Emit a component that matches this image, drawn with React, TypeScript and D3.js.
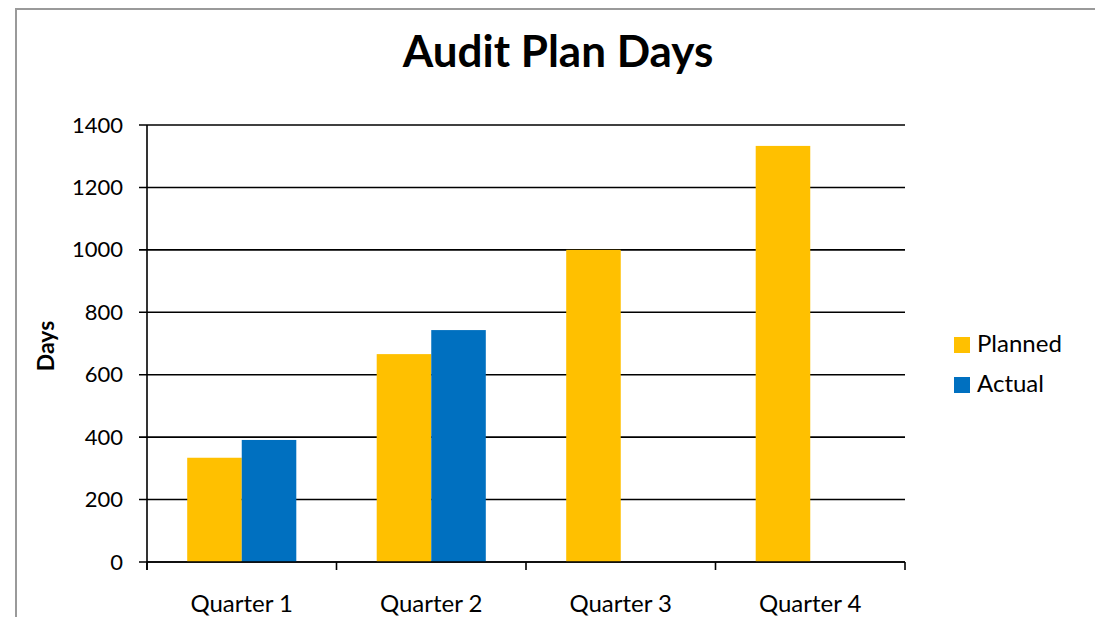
import React from "react";
import * as d3 from "d3";

const categories = ["Quarter 1", "Quarter 2", "Quarter 3", "Quarter 4"];
const seriesNames = ["Planned", "Actual"];
const planned = [334, 666, 1000, 1333];
const actual: (number | null)[] = [391, 743, null, null];
const yTicks = [0, 200, 400, 600, 800, 1000, 1200, 1400];
const colors = ["#FFC000", "#0070C0"];

const W = 1095;
const H = 617;
const FONT = "Lato, 'Open Sans', sans-serif";

export default function App() {
  const left = 147, right = 905, top = 125, bottom = 562;
  const x = d3.scaleBand<string>().domain(categories).range([left, right]).paddingInner(0).paddingOuter(0);
  const inner = d3.scaleBand<string>().domain(seriesNames).range([0, x.bandwidth()]).paddingInner(0).paddingOuter(0.737);
  const y = d3.scaleLinear().domain([0, 1400]).range([bottom, top]);
  const values = [planned, actual];

  return (
    <svg width={W} height={H} style={{ position: "absolute", left: 0, top: 0, background: "#fff" }}>
      <rect x={16} y={9} width={1200} height={700} fill="#fff" stroke="#9a9a9a" strokeWidth={2} />
      <text x={558} y={67} textAnchor="middle" fontFamily={FONT} fontWeight="bold" fontSize={44} fill="#000">
        Audit Plan Days
      </text>
      {yTicks.map((t) => (
        <g key={t}>
          <line x1={139} x2={right} y1={y(t)} y2={y(t)} stroke="#000" strokeWidth={1.6} />
          <text x={123} y={y(t) + 7.5} textAnchor="end" fontFamily={FONT} fontSize={22} fill="#000">
            {t}
          </text>
        </g>
      ))}
      {values.map((vals, si) =>
        categories.map((c, ci) => {
          const v = vals[ci];
          if (v == null) return null;
          return (
            <rect
              key={si + "-" + c}
              x={(x(c) as number) + (inner(seriesNames[si]) as number)}
              y={y(v)}
              width={inner.bandwidth()}
              height={y(0) - y(v)}
              fill={colors[si]}
            />
          );
        })
      )}
      <line x1={left} x2={left} y1={top} y2={bottom + 8} stroke="#000" strokeWidth={1.6} />
      <line x1={left} x2={right} y1={bottom} y2={bottom} stroke="#000" strokeWidth={1.6} />
      {[...categories.map((c) => x(c) as number), right].map((px, i) => (
        <line key={i} x1={px} x2={px} y1={bottom} y2={bottom + 8} stroke="#000" strokeWidth={1.6} />
      ))}
      {categories.map((c) => (
        <text key={c} x={(x(c) as number) + x.bandwidth() / 2} y={612} textAnchor="middle" fontFamily={FONT} fontSize={24} fill="#000">
          {c}
        </text>
      ))}
      <text transform={`translate(54,346) rotate(-90)`} textAnchor="middle" fontFamily={FONT} fontWeight="bold" fontSize={23} fill="#000">
        Days
      </text>
      {seriesNames.map((s, i) => (
        <g key={s}>
          <rect x={954} y={337 + i * 40} width={16} height={16} fill={colors[i]} />
          <text x={977} y={352 + i * 40} fontFamily={FONT} fontSize={24} fill="#000">
            {s}
          </text>
        </g>
      ))}
    </svg>
  );
}
